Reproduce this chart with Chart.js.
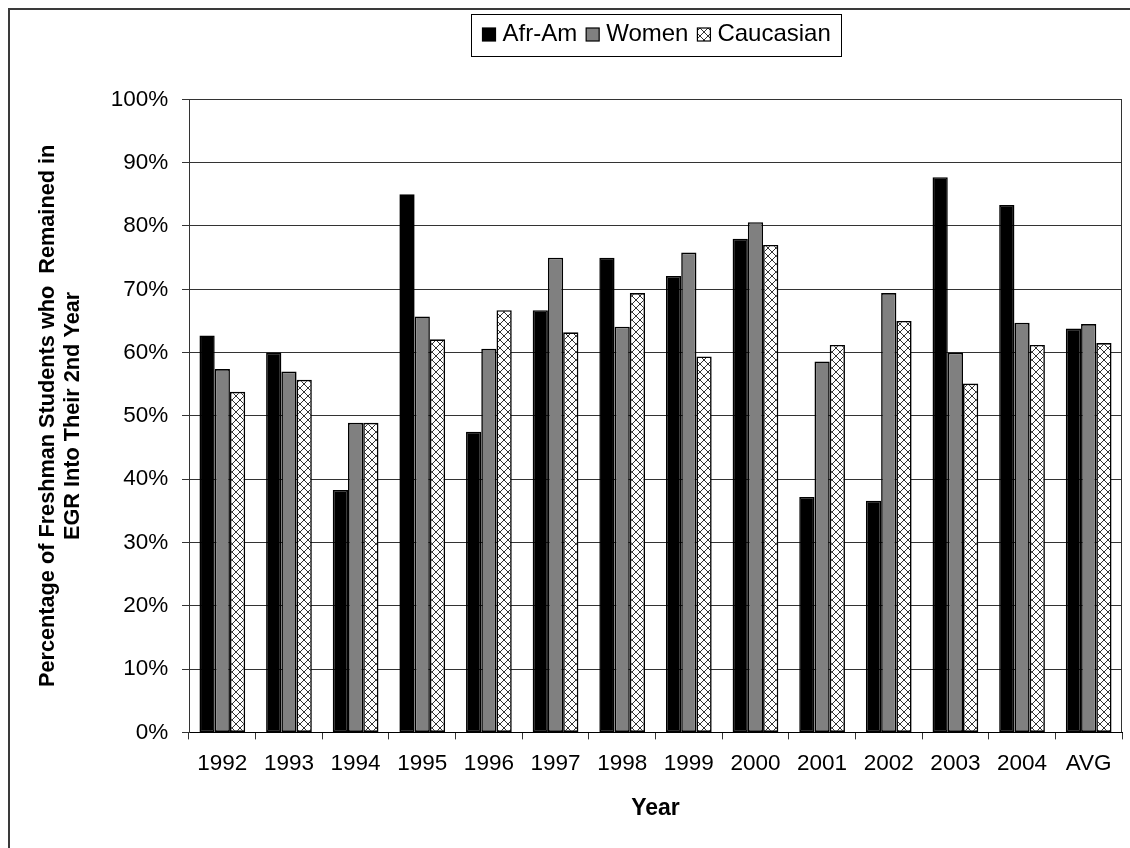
<!DOCTYPE html>
<html>
<head>
<meta charset="utf-8">
<title>Freshman retention in EGR</title>
<script src="https://cdn.jsdelivr.net/npm/chart.js@4/dist/chart.umd.min.js"></script>
<style>
  html, body { margin: 0; padding: 0; background: #fff; }
  canvas { display: block; }
</style>
</head>
<body>
<canvas id="chart" width="1130" height="848"></canvas>
<script>
// Share of freshmen still enrolled in EGR in their second year (percent)
const categories = ['1992', '1993', '1994', '1995', '1996', '1997', '1998', '1999', '2000', '2001', '2002', '2003', '2004', 'AVG'];
const afrAm      = [62.7, 60.0, 38.3, 85.0, 47.5, 66.7, 75.0, 72.1, 78.0, 37.2, 36.6, 87.7, 83.3, 63.8];
const women      = [57.4, 57.0, 48.9, 65.7, 60.6, 75.0, 64.1, 75.8, 80.6, 58.6, 69.4, 60.0, 64.7, 64.5];
const caucasian  = [53.8, 55.7, 48.9, 62.1, 66.7, 63.2, 69.4, 59.4, 77.0, 61.2, 65.0, 55.1, 61.2, 61.5];
const seriesNames = ['Afr-Am', 'Women', 'Caucasian'];
const yTickRange = [0, 100, 10]; // min, max, step (percent)
const yTitleLines = ['Percentage of Freshman Students who  Remained in', 'EGR Into Their 2nd Year'];
const xTitle = 'Year';

const FONT = '"Liberation Sans", Arial, Helvetica, sans-serif';
const canvas = document.getElementById('chart');
const ctx = canvas.getContext('2d');

// Diagonal cross-hatch fill for the third series
function crossHatch() {
  const tile = document.createElement('canvas');
  tile.width = 8; tile.height = 8;
  const g = tile.getContext('2d');
  g.fillStyle = '#ffffff';
  g.fillRect(0, 0, 8, 8);
  g.strokeStyle = '#333333';
  g.lineWidth = 1;
  g.beginPath();
  g.moveTo(0, 0); g.lineTo(8, 8);
  g.moveTo(8, 0); g.lineTo(0, 8);
  g.stroke();
  return ctx.createPattern(tile, 'repeat');
}
const hatch = crossHatch();

// Outer frame and the right edge of the plot area
const framePlugin = {
  id: 'frame',
  beforeDraw(chart) {
    const c = chart.ctx;
    c.save();
    c.fillStyle = '#ffffff';
    c.fillRect(0, 0, chart.width, chart.height);
    c.strokeStyle = '#3a3a3a';
    c.lineWidth = 2;
    c.strokeRect(9, 9, chart.width + 40, chart.height + 40);
    c.restore();
  },
  afterDatasetsDraw(chart) {
    const a = chart.chartArea;
    const c = chart.ctx;
    c.save();
    c.strokeStyle = '#333333';
    c.lineWidth = 1;
    c.beginPath();
    c.moveTo(Math.round(a.right) - 0.5, a.top);
    c.lineTo(Math.round(a.right) - 0.5, a.bottom);
    c.stroke();
    c.restore();
  }
};

// Boxed legend above the plot area
const boxedLegend = {
  id: 'boxedLegend',
  afterDraw(chart) {
    const c = chart.ctx;
    c.save();
    c.font = '24px ' + FONT;
    c.textBaseline = 'middle';
    const sw = 13, gapIn = 7, gapOut = 9, padX = 11;
    const items = chart.data.datasets.map(d => ({
      label: d.label, fill: d.backgroundColor, w: c.measureText(d.label).width
    }));
    const content = items.reduce((s, it) => s + sw + gapIn + it.w, 0) + gapOut * (items.length - 1);
    const boxW = Math.round(content + 2 * padX);
    const cx = (chart.chartArea.left + chart.chartArea.right) / 2;
    const bx = Math.round(cx - boxW / 2) + 0.5;
    const by = 14.5, boxH = 42;
    c.fillStyle = '#ffffff';
    c.fillRect(bx, by, boxW, boxH);
    c.strokeStyle = '#000000';
    c.lineWidth = 1;
    c.strokeRect(bx, by, boxW, boxH);
    let x = bx + padX;
    const my = 34.5;
    items.forEach(it => {
      c.fillStyle = it.fill;
      c.fillRect(x, my - sw / 2, sw, sw);
      c.strokeStyle = '#000000';
      c.lineWidth = 1.2;
      c.strokeRect(x, my - sw / 2, sw, sw);
      c.fillStyle = '#000000';
      c.fillText(it.label, x + sw + gapIn, my);
      x += sw + gapIn + it.w + gapOut;
    });
    c.restore();
  }
};

const seriesFills = ['#000000', '#808080', hatch];
const seriesValues = [afrAm, women, caucasian];

new Chart(canvas, {
  type: 'bar',
  data: {
    labels: categories,
    datasets: seriesNames.map((name, i) => ({
      label: name,
      data: seriesValues[i],
      backgroundColor: seriesFills[i],
      borderColor: '#000000',
      borderWidth: 1.6,
      borderSkipped: false,
      categoryPercentage: 0.686,
      barPercentage: 1.0
    }))
  },
  options: {
    responsive: false,
    maintainAspectRatio: false,
    devicePixelRatio: 1,
    animation: false,
    layout: { padding: { left: 0, right: 8, top: 99.4, bottom: 0 } },
    plugins: {
      legend: { display: false },
      tooltip: { enabled: false },
      title: { display: false }
    },
    scales: {
      x: {
        offset: true,
        afterFit(scale) { scale.height = 848 - 732.4; },
        grid: { offset: true, drawOnChartArea: false, drawTicks: true, tickLength: 7, color: '#333333', lineWidth: 1 },
        border: { display: true, color: '#000000', width: 1 },
        ticks: { color: '#000000', padding: 11, maxRotation: 0, autoSkip: false, font: { family: FONT, size: 22.5 } },
        title: {
          display: true, text: xTitle, color: '#000000',
          font: { family: FONT, size: 23, weight: 'bold', lineHeight: 1.2 },
          padding: { top: 0, bottom: 26 }
        }
      },
      y: {
        min: yTickRange[0],
        max: yTickRange[1],
        afterFit(scale) { scale.width = 189; },
        grid: { drawOnChartArea: true, drawTicks: true, tickLength: 7, color: '#333333', lineWidth: 1 },
        border: { display: true, color: '#333333', width: 1 },
        ticks: {
          stepSize: yTickRange[2], padding: 13.7, color: '#000000',
          font: { family: FONT, size: 22.5 },
          callback: v => v + '%'
        },
        title: {
          display: true, text: yTitleLines, color: '#000000',
          font: { family: FONT, size: 21.7, weight: 'bold', lineHeight: '25px' },
          padding: { top: 35.5, bottom: 0 }
        }
      }
    }
  },
  plugins: [framePlugin, boxedLegend]
});
</script>
</body>
</html>
